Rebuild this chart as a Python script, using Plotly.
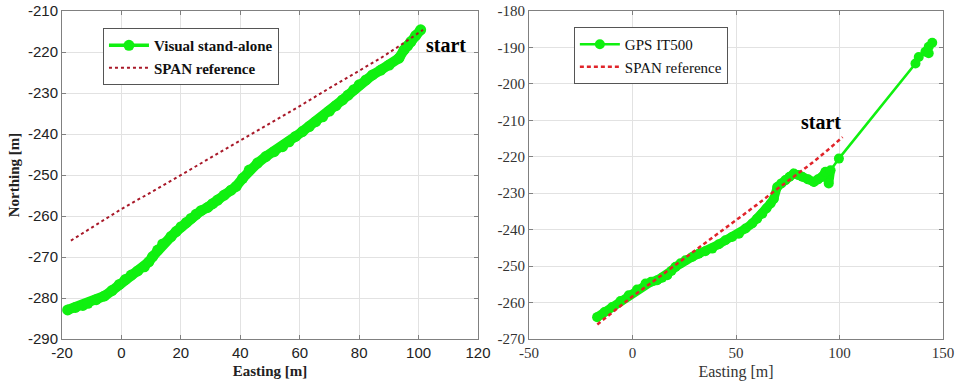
import plotly.graph_objects as go

# ---- data ----
vis_x = [-18.1, -15.5, -13.0, -11.3, -8.5, -5.7, -3.2, -0.7, 1.3, 3.3, 5.5, 7.7, 9.2, 10.5, 12.2, 13.9,
         16.7, 18.4, 20.1, 21.8, 23.4, 25.1, 26.8, 29.0, 30.7, 32.4, 34.6, 36.9, 38.6, 40.8, 43.0, 45.8,
         48.6, 51.4, 54.2, 56.4, 58.6, 60.9, 63.2, 65.4, 67.7, 70.0, 72.2, 74.4, 76.3, 78.2, 80.0, 82.3,
         84.5, 87.3, 90.1, 93.4, 95.1, 96.3, 97.4, 99.0, 100.7]
vis_y = [-282.9, -282.3, -281.8, -281.3, -280.4, -279.5, -278.2, -276.7, -275.5, -274.4, -273.4, -272.4,
         -271.2, -269.9, -268.3, -266.8, -265.0, -263.8, -262.6, -261.6, -260.6, -259.6, -258.7, -257.9,
         -257.0, -256.1, -254.9, -253.7, -252.8, -250.8, -248.8, -247.1, -245.5, -244.3, -243.1, -241.9,
         -240.6, -239.4, -238.2, -237.0, -235.8, -234.4, -233.1, -231.7, -230.5, -229.2, -228.0, -226.8,
         -225.6, -224.4, -223.2, -221.5, -219.5, -218.5, -217.5, -216.0, -214.6]

span_x = [-17.0, -10.0, 0.0, 10.0, 20.0, 30.0, 40.0, 50.0, 60.0, 70.0, 80.0, 87.0, 94.0, 101.5]
span_y = [-266.0, -262.8, -258.3, -254.2, -250.0, -245.9, -241.7, -237.5, -233.2, -228.8, -224.5,
          -221.6, -218.3, -214.6]

gps_x = [-17.1, -13.5, -9.8, -5.8, -1.8, 2.2, 6.3, 9.0, 11.9, 14.3, 16.8, 18.8, 20.8, 23.2, 25.6, 28.8,
         32.0, 35.2, 38.5, 41.7, 44.9, 48.1, 51.4, 54.6, 57.8, 60.2, 62.7, 64.7, 66.7, 68.3, 69.9, 71.9,
         73.9, 75.9, 77.9, 80.0, 82.0, 84.8, 87.6, 89.6, 91.6, 93.2, 94.8, 95.7, 99.7, 136.7, 138.3,
         141.5, 143.1, 143.1, 144.8]
gps_y = [-264.0, -262.6, -261.2, -259.6, -258.0, -256.4, -254.8, -254.3, -253.9, -253.2, -252.5, -251.3,
         -250.2, -249.2, -248.4, -247.5, -246.6, -245.9, -245.2, -244.0, -242.9, -242.0, -241.1, -239.7,
         -238.3, -237.0, -235.6, -234.2, -232.8, -231.5, -228.3, -227.3, -226.4, -225.5, -224.6, -225.0,
         -225.5, -226.2, -226.9, -226.2, -225.5, -224.1, -227.3, -223.7, -220.5, -194.4, -192.6, -191.2,
         -191.6, -189.8, -188.7]
# index where GPS stops being a dense cluster (the long straight jump follows)
gps_dense_end = 44

left_xticks = [-20, 0, 20, 40, 60, 80, 100, 120]
left_yticks = [-290, -280, -270, -260, -250, -240, -230, -220, -210]
right_xticks = [-50, 0, 50, 100, 150]
right_yticks = [-270, -260, -250, -240, -230, -220, -210, -200, -190, -180]

GREEN = "#10f010"
SERIF = "Liberation Serif"
SANS = "Liberation Sans"

fig = go.Figure()
# thick band of overlapping markers (no legend entry)
fig.add_trace(go.Scatter(x=vis_x, y=vis_y, mode="lines", showlegend=False, hoverinfo="skip",
                         line=dict(color=GREEN, width=10), xaxis="x", yaxis="y"))
fig.add_trace(go.Scatter(x=vis_x, y=vis_y, mode="lines+markers", name="Visual stand-alone",
                         line=dict(color=GREEN, width=3.5), marker=dict(color=GREEN, size=11),
                         xaxis="x", yaxis="y", legend="legend"))
fig.add_trace(go.Scatter(x=span_x, y=span_y, mode="lines", name="SPAN reference",
                         line=dict(color="#a81828", width=2, dash="dot"),
                         xaxis="x", yaxis="y", legend="legend"))
fig.add_trace(go.Scatter(x=gps_x[:gps_dense_end], y=gps_y[:gps_dense_end], mode="lines",
                         showlegend=False, hoverinfo="skip",
                         line=dict(color=GREEN, width=9), xaxis="x2", yaxis="y2"))
fig.add_trace(go.Scatter(x=gps_x, y=gps_y, mode="lines+markers", name="GPS IT500",
                         line=dict(color=GREEN, width=2.5), marker=dict(color=GREEN, size=10),
                         xaxis="x2", yaxis="y2", legend="legend2"))
fig.add_trace(go.Scatter(x=span_x, y=span_y, mode="lines", name="SPAN reference",
                         line=dict(color="#e0242a", width=2.5, dash="4px,3px"),
                         xaxis="x2", yaxis="y2", legend="legend2"))

axis_common = dict(showline=True, mirror="ticks", linecolor="#808080", linewidth=1,
                   ticks="inside", ticklen=4, tickcolor="#808080", showgrid=True,
                   gridcolor="#e2e2e2", zeroline=False, automargin=False)

def fmt(v):
    return str(v)

fig.update_layout(
    width=960, height=383,
    margin=dict(l=62, r=17, t=11, b=44),
    paper_bgcolor="white", plot_bgcolor="white",
    xaxis=dict(domain=[0, 0.4722], range=[-20, 120], tickvals=left_xticks,
               ticktext=[fmt(v) for v in left_xticks], anchor="y",
               tickfont=dict(family=SANS, size=15, color="#222222"),
               title=dict(text="Easting [m]", font=dict(family=SERIF, size=15, weight="bold", color="#222222"),
                          standoff=5),
               **axis_common),
    yaxis=dict(domain=[0, 1], range=[-290, -210], tickvals=left_yticks,
               ticktext=[fmt(v) for v in left_yticks], anchor="x",
               tickfont=dict(family=SANS, size=15, color="#222222"),
               title=dict(text="Northing [m]", font=dict(family=SERIF, size=15, weight="bold", color="#222222"),
                          standoff=4),
               **axis_common),
    xaxis2=dict(domain=[0.5301, 1], range=[-50, 150], tickvals=right_xticks,
                ticktext=[fmt(v) for v in right_xticks], anchor="y2",
                tickfont=dict(family=SERIF, size=15, color="#333333"),
                title=dict(text="Easting [m]", font=dict(family=SERIF, size=16, color="#333333"), standoff=5),
                **axis_common),
    yaxis2=dict(domain=[0, 1], range=[-270, -180], tickvals=right_yticks,
                ticktext=[fmt(v) for v in right_yticks], anchor="x2",
                tickfont=dict(family=SERIF, size=15, color="#333333"),
                **axis_common),
    legend=dict(x=0.0465, y=0.948, xanchor="left", yanchor="top", bgcolor="white",
                bordercolor="#555555", borderwidth=1, itemwidth=40, tracegroupgap=0,
                font=dict(family=SERIF, size=15, weight="bold", color="#111111")),
    legend2=dict(x=0.581, y=0.951, xanchor="left", yanchor="top", bgcolor="white",
                 bordercolor="#555555", borderwidth=1, itemwidth=40, tracegroupgap=0,
                 font=dict(family=SERIF, size=15, color="#111111")),
    annotations=[
        dict(x=109.2, y=-218.3, xref="x", yref="y", text="start", showarrow=False,
             font=dict(family=SERIF, size=20, weight="bold", color="black")),
        dict(x=91.3, y=-210.5, xref="x2", yref="y2", text="start", showarrow=False,
             font=dict(family=SERIF, size=20, weight="bold", color="black")),
    ],
)

fig.write_html("out.html")
